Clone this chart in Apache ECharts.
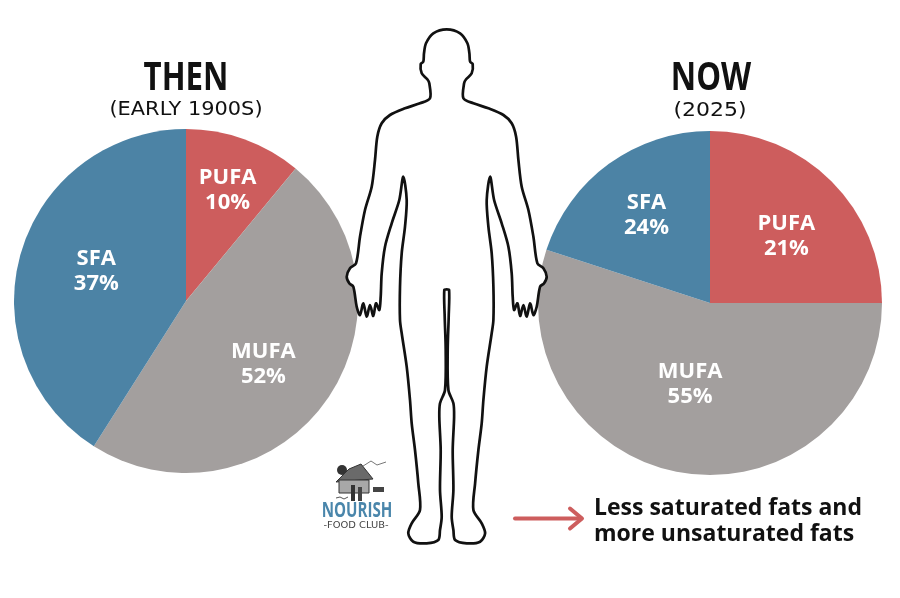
<!DOCTYPE html>
<html>
<head>
<meta charset="utf-8">
<script src="https://cdn.jsdelivr.net/npm/echarts@6/dist/echarts.min.js"></script>
<style>
  html, body { margin: 0; padding: 0; background: #fff; }
  #main { width: 900px; height: 598px; }
</style>
</head>
<body>
<div id="main"></div>
<script>
// fat types, clockwise from 12 o'clock
var fats = ['PUFA', 'MUFA', 'SFA']
// slice sizes as drawn in the picture
var thenShare = [11, 48, 41]
var nowShare = [25, 55, 20]
// percentages printed on the slices
var thenLabels = ['10%', '52%', '37%']
var nowLabels = ['21%', '55%', '24%']
var titles = ['THEN', 'NOW']
var subtitles = ['(EARLY 1900S)', '(2025)']
var note = 'Less saturated fats and\nmore unsaturated fats'

var colors = ['#CD5D5D', '#A39F9E', '#4C83A5']
var heading = "'Open Sans', 'DejaVu Sans', sans-serif"

// small shifts of each slice label [dx, dy], same order as fats
var thenNudge = [[5, -9], [-10, 0], [14, 0]]
var nowNudge = [[0, 10], [-3, -25], [0, 0]]

// left half of the body outline (top of head -> crotch), mirrored for the right half
var bodyHalf = [
  [446.7, 29.3], [433.3, 33.3], [426, 43.3], [424, 53.3], [423.3, 61.7], [420.7, 64], [421.7, 73.3],
  [427.3, 79.3], [429.3, 83.3], [430, 98.3], [420, 103.3], [405, 108.3], [390, 115], [381.7, 123.3],
  [377.3, 136.7], [375, 160], [371.7, 186.7], [365, 210], [360, 236.7], [356, 263.3], [350, 268.3],
  [346.7, 276.7], [349.3, 283.3], [353.3, 286.7], [356.7, 306.7], [360, 315], [363.3, 303.3],
  [366.7, 316.7], [370, 305], [373.3, 316], [376, 303.3], [379.3, 310], [380.7, 296.7], [381.7, 273.3],
  [385, 246.7], [391.7, 223.3], [399.3, 200], [403.3, 176.7], [406.7, 200], [405, 226.7],
  [401.7, 253.3], [400, 286.7], [400, 320], [401.7, 333.3], [406.7, 366.7], [410, 400], [411.7, 423.3],
  [415, 450], [418.3, 483.3], [420, 510], [411.7, 523.3], [408.3, 533.3], [413.3, 541.7],
  [426.7, 543.3], [438.3, 540], [440, 530], [441.7, 516.7], [440, 490], [440.7, 450], [439.3, 416.7],
  [440, 403.3], [445, 390], [445.7, 350], [444.7, 316.7], [444.3, 290], [446.7, 289.3]
]

function bodyPoints() {
  var axis = 446.7
  var right = bodyHalf.slice(1, -1).reverse().map(function (p) { return [2 * axis - p[0], p[1]] })
  return bodyHalf.concat(right)
}

function slices(center, share) {
  return {
    type: 'pie',
    center: center,
    radius: [0, 172],
    startAngle: 90,
    silent: true,
    itemStyle: { borderWidth: 0 },
    label: { show: false },
    labelLine: { show: false },
    data: fats.map(function (name, i) {
      return { name: name, value: share[i], itemStyle: { color: colors[i] } }
    }),
    z: 2
  }
}

// transparent copy of the pie, only to place the labels a bit further out
function sliceLabels(center, share, labels, nudge) {
  return {
    type: 'pie',
    center: center,
    radius: [38, 172],
    startAngle: 90,
    silent: true,
    itemStyle: { borderWidth: 0, color: 'rgba(0,0,0,0)' },
    label: {
      show: true,
      position: 'inside',
      color: '#fff',
      fontFamily: 'Open Sans',
      fontWeight: 'bold',
      fontSize: 22,
      lineHeight: 25,
      formatter: function (p) {
        var dy = nudge[p.dataIndex][1]
        var s = p.name + '\n' + labels[p.dataIndex]
        if (dy < 0) s = s + '\n{gap| }'
        if (dy > 0) s = '{gap| }\n' + s
        return s
      }
    },
    labelLine: { show: false },
    data: fats.map(function (name, i) {
      var dx = nudge[i][0] * 2
      return {
        name: name,
        value: share[i],
        label: {
          padding: [0, Math.max(0, -dx), 0, Math.max(0, dx)],
          rich: { gap: { fontSize: 1, lineHeight: Math.max(1, Math.abs(nudge[i][1]) * 2) } }
        }
      }
    }),
    z: 3
  }
}

var chart = echarts.init(document.getElementById('main'), null, { renderer: 'canvas' })

var option = {
  animation: false,
  backgroundColor: '#fff',
  series: [
    slices([186, 301], thenShare),
    sliceLabels([186, 301], thenShare, thenLabels, thenNudge),
    slices([710, 303], nowShare),
    sliceLabels([710, 303], nowShare, nowLabels, nowNudge)
  ],
  graphic: [
    // headings
    { type: 'text', x: 186, y: 79, scaleX: 0.78, z: 10, style: { text: titles[0], textAlign: 'center', textVerticalAlign: 'middle', fontFamily: heading, fontWeight: 'bold', fontSize: 40, fill: '#111' } },
    { type: 'text', x: 186, y: 110, scaleX: 1.1, z: 10, style: { text: subtitles[0], textAlign: 'center', textVerticalAlign: 'middle', fontFamily: 'DejaVu Sans', fontSize: 19, fill: '#111' } },
    { type: 'text', x: 711, y: 79, scaleX: 0.78, z: 10, style: { text: titles[1], textAlign: 'center', textVerticalAlign: 'middle', fontFamily: heading, fontWeight: 'bold', fontSize: 40, fill: '#111' } },
    { type: 'text', x: 710, y: 111, scaleX: 1.1, z: 10, style: { text: subtitles[1], textAlign: 'center', textVerticalAlign: 'middle', fontFamily: 'DejaVu Sans', fontSize: 20, fill: '#111' } },

    // body outline, drawn over the pies
    { type: 'polygon', z: 20, shape: { points: bodyPoints(), smooth: 0.3 }, style: { fill: '#fff', stroke: '#111', lineWidth: 2.7, lineJoin: 'round' } },

    // logo
    { type: 'circle', z: 10, shape: { cx: 342, cy: 470, r: 5 }, style: { fill: '#333' } },
    { type: 'polyline', z: 10, shape: { points: [[360, 468], [371, 461], [377, 465], [386, 462]] }, style: { stroke: '#777', lineWidth: 1, fill: null } },
    { type: 'polygon', z: 10, shape: { points: [[336, 482], [349, 469], [361, 464], [373, 479]] }, style: { fill: '#6a6a6a', stroke: '#333', lineWidth: 1 } },
    { type: 'rect', z: 10, shape: { x: 339, y: 480, width: 30, height: 13 }, style: { fill: '#a8a8a8', stroke: '#333', lineWidth: 1 } },
    { type: 'rect', z: 11, shape: { x: 351, y: 485, width: 4, height: 16 }, style: { fill: '#333' } },
    { type: 'rect', z: 11, shape: { x: 358, y: 487, width: 4, height: 14 }, style: { fill: '#444' } },
    { type: 'rect', z: 10, shape: { x: 373, y: 487, width: 11, height: 5 }, style: { fill: '#444' } },
    { type: 'polyline', z: 10, shape: { points: [[336, 498], [340, 497], [344, 499], [348, 497]] }, style: { stroke: '#555', lineWidth: 1, fill: null } },
    { type: 'text', x: 357, y: 511, scaleX: 0.72, z: 10, style: { text: 'NOURISH', textAlign: 'center', textVerticalAlign: 'middle', fontFamily: heading, fontWeight: 'bold', fontSize: 21, fill: '#4A86AB' } },
    { type: 'text', x: 356, y: 525.5, scaleX: 1.1, z: 10, style: { text: '-FOOD CLUB-', textAlign: 'center', textVerticalAlign: 'middle', fontFamily: 'DejaVu Sans', fontSize: 9, fill: '#444' } },

    // arrow + note
    { type: 'line', z: 10, shape: { x1: 515, y1: 518.5, x2: 581, y2: 518.5 }, style: { stroke: '#CD5D5D', lineWidth: 4, lineCap: 'round' } },
    { type: 'polyline', z: 10, shape: { points: [[570, 508.5], [582, 518.5], [570, 528.5]] }, style: { stroke: '#CD5D5D', lineWidth: 4, lineCap: 'round', lineJoin: 'round', fill: null } },
    { type: 'text', x: 594, y: 521, z: 10, style: { text: note, textAlign: 'left', textVerticalAlign: 'middle', fontFamily: 'Open Sans', fontWeight: 'bold', fontSize: 23, lineHeight: 26, fill: '#111' } }
  ]
}

chart.setOption(option)
</script>
</body>
</html>
